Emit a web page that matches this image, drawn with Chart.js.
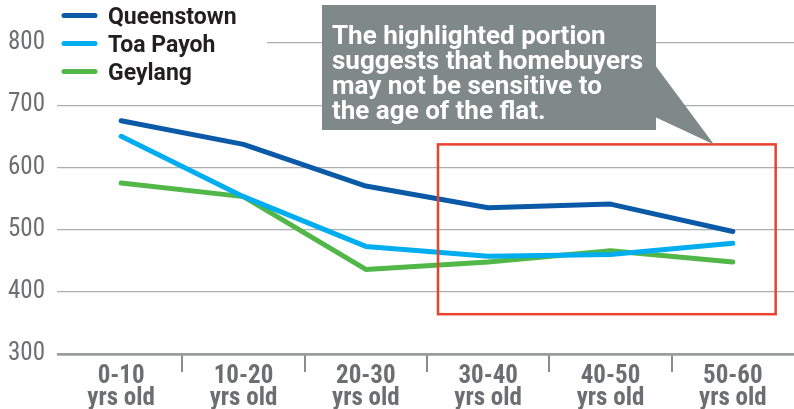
<!DOCTYPE html>
<html><head><meta charset="utf-8">
<script src="https://cdn.jsdelivr.net/npm/chart.js@4/dist/chart.umd.min.js"></script>
<style>html,body{margin:0;padding:0;background:#fff;}#wrap{width:794px;height:409px;}</style>
</head><body><div id="wrap"><canvas id="c" width="794" height="409"></canvas></div>
<script>
const categories = [['0-10','yrs old'],['10-20','yrs old'],['20-30','yrs old'],['30-40','yrs old'],['40-50','yrs old'],['50-60','yrs old']];
const seriesNames = ['Queenstown','Toa Payoh','Geylang'];
const queenstown = [675, 637, 570, 535, 541, 497];
const toaPayoh   = [650, 553, 473, 457, 460, 478];
const geylang    = [575, 553, 436, 448, 466, 448];
const yTicks = [300, 400, 500, 600, 700, 800];
const calloutLines = ['The highlighted portion','suggests that homebuyers','may not be sensitive to','the age of the flat.'];
const highlightX = [2.59, 5.35];
const highlightY = [364, 637];

const colors = ['#0a5aa8', '#00aeef', '#50b748'];
const narrow = "'Liberation Sans Narrow', 'Roboto Condensed', Roboto, sans-serif";

const overlay = {
  id: 'overlay',
  afterDatasetsDraw(chart) {
    const { ctx, scales: { x, y } } = chart;
    ctx.save();
    const x0 = x.getPixelForValue(highlightX[0]), x1 = x.getPixelForValue(highlightX[1]);
    const yTop = y.getPixelForValue(highlightY[1]), yBot = y.getPixelForValue(highlightY[0]);
    ctx.strokeStyle = '#e9422e'; ctx.lineWidth = 2.5;
    ctx.strokeRect(x0, yTop, x1 - x0, yBot - yTop);
    // callout
    ctx.fillStyle = '#7f8987';
    ctx.fillRect(322, 5, 334, 125);
    ctx.beginPath();
    ctx.moveTo(655, 65); ctx.lineTo(714, yTop); ctx.lineTo(655, 117); ctx.closePath(); ctx.fill();
    ctx.fillStyle = '#ffffff';
    ctx.font = 'bold 26px Roboto';
    ctx.textBaseline = 'alphabetic'; ctx.textAlign = 'left';
    calloutLines.forEach((t, i) => ctx.fillText(t, 332, 44 + 25 * i));
    // legend
    ctx.fillStyle = '#ffffff';
    ctx.fillRect(57, 0, 210, 86);
    chart.data.datasets.forEach((ds, i) => {
      const yy = 15.5 + 28 * i;
      ctx.strokeStyle = ds.borderColor; ctx.lineWidth = 5; ctx.lineCap = 'round';
      ctx.beginPath(); ctx.moveTo(64, yy); ctx.lineTo(95, yy); ctx.stroke();
      ctx.fillStyle = '#231f20'; ctx.font = 'bold 23px Roboto';
      ctx.fillText(ds.label, 108, yy + 8.2);
    });
    ctx.restore();
  }
};

const hideEdge = (c) => (c.index === undefined || c.index === 0) ? 'rgba(0,0,0,0)' : '#8a8c8e';

new Chart(document.getElementById('c'), {
  type: 'line',
  data: {
    labels: categories,
    datasets: [queenstown, toaPayoh, geylang].map((d, i) => ({
      label: seriesNames[i], data: d, borderColor: colors[i], backgroundColor: colors[i],
      borderWidth: 5, pointRadius: 0, tension: 0, borderCapStyle: 'round', borderJoinStyle: 'round', fill: false
    }))
  },
  options: {
    responsive: false, animation: false, devicePixelRatio: 1,
    layout: { padding: { top: 43, right: 0, bottom: 0, left: 0 } },
    plugins: { legend: { display: false }, tooltip: { enabled: false } },
    scales: {
      x: {
        offset: true,
        border: { display: false },
        grid: { offset: true, drawOnChartArea: false, drawTicks: true, tickLength: 18, color: hideEdge, tickColor: hideEdge, lineWidth: 2, tickWidth: 2 },
        ticks: { color: '#6d6e71', font: { family: narrow, size: 25, weight: 'bold', lineHeight: 0.86 }, padding: -6, maxRotation: 0, autoSkip: false },
        afterFit: (s) => { s.height = 55; }
      },
      y: {
        min: 300, max: 800,
        border: { display: false },
        afterBuildTicks: (s) => { s.ticks = yTicks.map(v => ({ value: v })); },
        afterFit: (s) => { s.width = 60; },
        grid: {
          drawTicks: true, tickLength: 3,
          color: (c) => c.tick && c.tick.value === 300 ? '#9a9b9d' : '#acaeb0',
          lineWidth: (c) => c.tick && c.tick.value === 300 ? 2.7 : 1.2
        },
        ticks: { color: '#6d6e71', font: { family: narrow, size: 25 }, padding: 12 }
      }
    }
  },
  plugins: [overlay]
});
</script></body></html>
